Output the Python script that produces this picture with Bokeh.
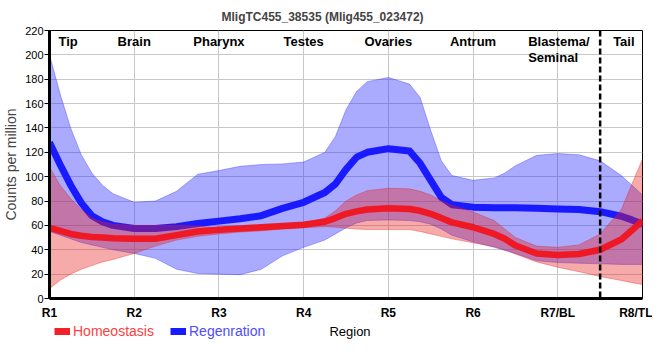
from bokeh.plotting import figure
from bokeh.layouts import column
from bokeh.models import FixedTicker, Legend, LegendItem, Span
from bokeh.core.properties import value
from bokeh.embed import file_html
from bokeh.resources import INLINE

# position along the body (R1 = 0 ... R8/TL = 7)
pos = [0, 0.125, 0.25, 0.375, 0.5, 0.625, 0.75, 1, 1.25, 1.5, 1.75, 2, 2.25, 2.5, 2.75, 3,
       3.25, 3.375, 3.5, 3.625, 3.75, 4, 4.25, 4.375, 4.5, 4.625, 4.75, 5, 5.25, 5.375,
       5.5, 5.75, 6, 6.25, 6.5, 6.75, 6.875, 7]

regen_mean = [128, 110, 93, 78.5, 68, 63, 60, 57.5, 57.5, 59, 61.5, 63.5, 65.5, 68, 74, 79,
              87, 94, 106, 116, 120, 123, 121, 111, 97, 83, 77, 75, 74.5, 74.5,
              74.5, 74, 73.5, 73, 71.3, 67.5, 64.5, 61]
regen_upper = [200, 168, 140, 118, 103, 93, 86, 79, 80, 88, 102, 105, 108.5, 110, 110.5, 112,
               120, 133, 155, 170, 178, 181.5, 176, 165, 138, 113, 101, 97, 99, 103,
               109, 117.5, 119, 118, 113, 101, 93, 85]
regen_lower = [55, 52, 49, 46, 44, 42, 40, 37, 33, 24, 20.5, 20, 19.5, 24, 35, 42,
               48, 53, 58, 62, 64, 64.5, 64, 63, 61, 57, 52, 46.5, 42, 39.5,
               37, 31, 29.5, 29, 28.5, 28, 28, 28]

homeo_mean = [58, 55.5, 53, 51.5, 50.5, 50, 49.5, 49, 49, 52, 55, 56.5, 57.5, 58.5, 59.5, 60.5,
              63, 66, 69.5, 71.5, 73, 74, 73.5, 72, 69.5, 66, 62.5, 58.5, 53, 49,
              43.5, 37, 35.8, 36.5, 40, 48.5, 56, 64]
homeo_upper = [108, 93, 82, 73, 66, 63, 61, 60, 60, 60, 59.5, 58, 59, 60, 61, 62,
               66, 72, 80, 85, 88.5, 90.5, 90, 88, 85, 80, 76.5, 71, 64, 57,
               50, 43, 42, 44, 53, 73, 94, 114.5]
homeo_lower = [8, 15, 20, 24, 27, 30, 32, 37, 43, 48, 51, 53, 54.5, 55.5, 57, 58,
               59, 58.5, 57.7, 57, 56.6, 56.6, 56.6, 55, 53, 51, 49, 45.7, 42.5, 40,
               36.5, 30, 25.7, 22, 18, 14.8, 13, 11.5]

region_ticks = [0, 1, 2, 3, 4, 5, 6, 7]
region_labels = ["R1", "R2", "R3", "R4", "R5", "R6", "R7/BL", "R8/TL"]
y_ticks = list(range(0, 221, 20))

tissue_names = ["Tip", "Brain", "Pharynx", "Testes", "Ovaries", "Antrum", "Tail"]
tissue_pos = [0.22, 1, 2, 3, 4, 5, 6.78]
blastema_name = "Blastema/\nSeminal"
blastema_pos = 5.65
tail_boundary = 6.5

series_names = ["Homeostasis", "Regenration"]
TITLE = "MligTC455_38535 (Mlig455_023472)"
X_LABEL = "Region"
Y_LABEL = "Counts per million"
FONT = "Liberation Sans"

RED = "#f0141e"
BLUE = "#1a1aff"

p = figure(width=652, height=322, x_range=(0, 7), y_range=(0, 220),
           output_backend="svg", toolbar_location=None, title=TITLE,
           min_border_left=42, min_border_right=10, min_border_top=0, min_border_bottom=24)

p.title.text_font = FONT
p.title.text_font_size = "12px"
p.title.text_font_style = "bold"
p.title.align = "left"
p.title.offset = 172
p.title.standoff = 14

p.outline_line_color = "black"
p.outline_line_width = 1
p.background_fill_color = "white"
p.border_fill_color = "white"

# axes
p.xaxis.ticker = FixedTicker(ticks=region_ticks)
p.xaxis.major_label_overrides = {t: l for t, l in zip(region_ticks, region_labels)}
p.xaxis.major_label_text_font = FONT
p.xaxis.major_label_text_font_style = "bold"
p.xaxis.major_label_text_font_size = "12px"
p.xaxis.major_label_text_color = "black"
p.xaxis.major_tick_out = 0
p.xaxis.major_tick_in = 0
p.xaxis.minor_tick_line_color = None
p.xaxis.major_label_standoff = 7
p.xaxis.axis_line_width = 3
p.xaxis.axis_line_color = "black"
p.xaxis.axis_label = None
p.xaxis.axis_label_standoff = 0

p.yaxis.ticker = FixedTicker(ticks=y_ticks)
p.yaxis.major_label_text_font = FONT
p.yaxis.major_label_text_font_size = "11px"
p.yaxis.major_label_text_color = "black"
p.yaxis.major_tick_out = 5
p.yaxis.major_tick_in = 0
p.yaxis.major_tick_line_color = "black"
p.yaxis.minor_tick_line_color = None
p.yaxis.major_label_standoff = 1
p.yaxis.axis_line_width = 3
p.yaxis.axis_line_color = "black"
p.yaxis.axis_label = Y_LABEL
p.yaxis.axis_label_text_font = FONT
p.yaxis.axis_label_text_font_style = "normal"
p.yaxis.axis_label_text_font_size = "14px"
p.yaxis.axis_label_standoff = 3

p.xgrid.ticker = FixedTicker(ticks=region_ticks)
p.ygrid.ticker = FixedTicker(ticks=y_ticks)
p.grid.grid_line_color = "#c8c8c8"
p.grid.grid_line_width = 1

# bands and lines
p.varea(x=pos, y1=regen_lower, y2=regen_upper, fill_color="#2b2bff", fill_alpha=0.4)
p.line(x=pos, y=regen_upper, line_color="#2b2bff", line_alpha=0.35, line_width=1)
p.line(x=pos, y=regen_lower, line_color="#2b2bff", line_alpha=0.35, line_width=1)
p.line(x=pos, y=regen_mean, line_color=BLUE, line_width=7, line_join="round", line_cap="butt")

p.varea(x=pos, y1=homeo_lower, y2=homeo_upper, fill_color="#e8201e", fill_alpha=0.38)
p.line(x=pos, y=homeo_upper, line_color="#e8201e", line_alpha=0.35, line_width=1)
p.line(x=pos, y=homeo_lower, line_color="#e8201e", line_alpha=0.35, line_width=1)
p.line(x=pos, y=homeo_mean, line_color=RED, line_width=6.5, line_alpha=0.95,
       line_join="round", line_cap="butt")

p.add_layout(Span(location=tail_boundary, dimension="height", line_color="black",
                  line_width=2.5, line_dash="6 3"))

# tissue labels
p.text(x=tissue_pos, y=[220] * len(tissue_pos), text=tissue_names,
       text_font=value(FONT), text_font_style="bold", text_font_size="13px",
       text_align="center", text_baseline="top", y_offset=3, text_color="black")
p.text(x=[blastema_pos], y=[220], text=[blastema_name],
       text_font=value(FONT), text_font_style="bold", text_font_size="13px",
       text_align="left", text_baseline="top", y_offset=3, text_color="black",
       text_line_height=1.1)

# legend strip below the chart (legend items in their own colours + x-axis title)
s = figure(width=652, height=30, x_range=p.x_range, y_range=(0, 30),
           output_backend="svg", toolbar_location=None,
           x_axis_location=None, y_axis_location=None,
           min_border_left=42, min_border_right=10, min_border_top=0, min_border_bottom=0,
           margin=(-9, 0, 0, 0))
s.outline_line_color = None
s.grid.visible = False
s.background_fill_alpha = 0
s.border_fill_alpha = 0

# single-point lines draw nothing; they only give the legend its swatches
r_homeo = s.line(x=pos[:1], y=homeo_mean[:1], line_color=RED, line_width=7, line_alpha=0.95)
r_regen = s.line(x=pos[:1], y=regen_mean[:1], line_color=BLUE, line_width=7)

common = dict(orientation="horizontal", label_text_font=FONT, label_text_font_size="14px",
              glyph_width=16, glyph_height=10, label_standoff=3, padding=0, margin=0,
              spacing=0, background_fill_alpha=0, border_line_alpha=0, label_height=16)
leg1 = Legend(items=[LegendItem(label=series_names[0], renderers=[r_homeo])],
              location=(5, 4), label_text_color="#ff4040", **common)
leg2 = Legend(items=[LegendItem(label=series_names[1], renderers=[r_regen])],
              location=(121, 4), label_text_color="#4d4dff", **common)
s.add_layout(leg1)
s.add_layout(leg2)

s.text(x=[3.5], y=[12], text=[X_LABEL], text_font=value(FONT), text_font_size="13px",
       text_align="center", text_baseline="middle", text_color="black", x_offset=4)

layout = column(p, s, spacing=0)
open("out.html", "w").write(file_html(layout, INLINE))
